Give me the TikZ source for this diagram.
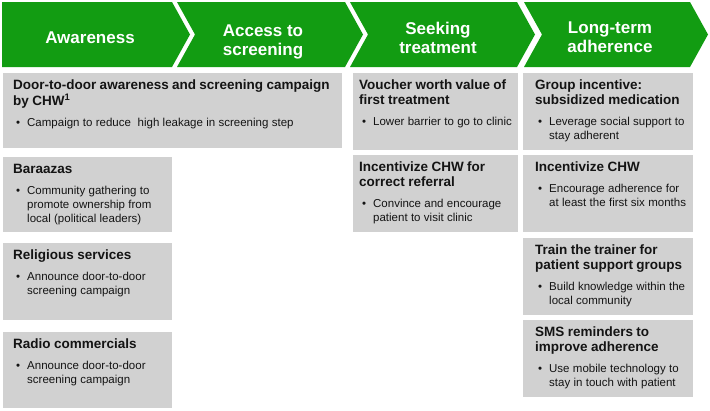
\documentclass[tikz,border=0pt]{standalone}
\usepackage{fontspec}
\setmainfont{Liberation Sans}
\usetikzlibrary{fit}
\setlength\parindent{0pt}
\definecolor{chev}{RGB}{18,156,18}
\definecolor{cardgray}{RGB}{209,209,209}
\definecolor{ink}{RGB}{20,20,20}
\tikzset{
  chevron/.style={fill=chev, draw=none},
  headtext/.style={text=white, font=\fontsize{17}{19}\selectfont\bfseries, align=center, inner sep=0pt},
  cardbox/.style={fill=cardgray, draw=none, inner sep=0pt, rectangle},
  cardtext/.style={anchor=north west, inner sep=0pt, text width=330pt, align=left, text=ink},
}
\newcommand\card[8]{%
  \coordinate (#1-tl) at (#2,#3);
  \coordinate (#1-br) at (#4,#5);
  \node[cardbox, fit=(#1-tl)(#1-br)] (#1) {};
  \node[cardtext] (#1-text) at ({#2+#6},{#3+5.5}) {%
    {\fontsize{13.5}{14.5}\selectfont\bfseries\vrule height 11pt depth 0pt width 0pt\ignorespaces #7\par}%
    \vspace{7pt}%
    {\fontsize{11.5}{14}\selectfont\leftskip=14pt\noindent\llap{\textbullet\hskip 7pt}#8\par}};
}
\begin{document}
\begin{tikzpicture}[x=1pt,y=-1pt]
\useasboundingbox[fill=white] (0,0) rectangle (710,410);
% chevrons
\fill[chevron] (2,2) -- (172,2) -- (190,34.5) -- (172,67) -- (2,67) -- cycle;
\fill[chevron] (177,2) -- (345,2) -- (363,34.5) -- (345,67) -- (177,67) -- (195,34.5) -- cycle;
\fill[chevron] (350,2) -- (517,2) -- (535,34.5) -- (517,67) -- (350,67) -- (368,34.5) -- cycle;
\fill[chevron] (524,2) -- (690,2) -- (708,34.5) -- (690,67) -- (524,67) -- (542,34.5) -- cycle;
\node[headtext] (h1) at (90,37.5) {Awareness};
\node[headtext] (h2) at (263,42) {Access to\\screening};
\node[headtext] (h3) at (438,37.5) {Seeking\\treatment};
\node[headtext] (h4) at (610,37.5) {Long-term\\adherence};
% cards
\card{a}{3}{73}{342}{148}{10}{Door-to-door awareness and screening campaign\par by CHW\textsuperscript{1}}{Campaign to reduce~ high leakage in screening step}
\card{b}{3}{157}{172}{232}{10}{Baraazas}{Community gathering to\par promote ownership from\par local (political leaders)}
\card{c}{3}{243}{172}{320}{10}{Religious services}{Announce door-to-door\par screening campaign}
\card{d}{3}{332}{172}{408}{10}{Radio commercials}{Announce door-to-door\par screening campaign}
\card{e}{353}{73}{518}{150}{6}{Voucher worth value of\par first treatment}{Lower barrier to go to clinic}
\card{f}{353}{155}{518}{232}{6}{Incentivize CHW for\par correct referral}{Convince and encourage\par patient to visit clinic}
\card{g}{523}{73}{693}{150}{12}{Group incentive:\par subsidized medication}{Leverage social support to\par stay adherent}
\card{h}{523}{155}{693}{232}{12}{Incentivize CHW}{Encourage adherence for\par at least the first six months}
\card{i}{523}{238}{693}{315}{12}{Train the trainer for\par patient support groups}{Build knowledge within the\par local community}
\card{j}{523}{320}{693}{397}{12}{SMS reminders to\par improve adherence}{Use mobile technology to\par stay in touch with patient}
\end{tikzpicture}
\end{document}
